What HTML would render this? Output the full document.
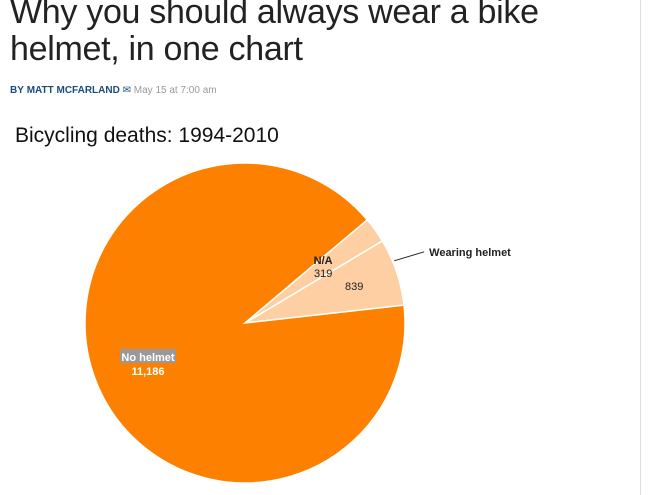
<!DOCTYPE html>
<html><head><meta charset="utf-8"><style>
body{margin:0;width:653px;height:495px;background:#fff;overflow:hidden;font-family:"Liberation Sans",sans-serif;position:relative}
h1{position:absolute;left:10px;top:-6px;margin:0;font-weight:normal;font-size:34px;line-height:37px;color:#222;letter-spacing:-0.3px}
.by{position:absolute;left:10px;top:85px;font-size:10px;color:#999}
.by b{color:#1a4d7c}
.ct{position:absolute;left:15px;top:124px;font-size:21px;color:#111}
.rule{position:absolute;left:640px;top:0;width:1px;height:495px;background:#ddd}
svg{position:absolute;left:0;top:0}
</style></head><body>
<h1>Why you should always wear a bike<br>helmet, in one chart</h1>
<div class="by"><b>BY</b> <b style="color:#1a4d7c">MATT MCFARLAND</b> <span style="color:#1a4d7c">✉</span> May 15 at 7:00 am</div>
<div class="ct">Bicycling deaths: 1994-2010</div>
<div class="rule"></div>
<svg id="pie" width="653" height="495"></svg>
<script>
const categories=["Wearing helmet","N/A","No helmet"];
const values=[839,319,11186];
const labels=["839","319","11,186"];
const colors=["#fdcfa3","#fdcfa3","#fd8000"];
const cx=245,cy=323,r=160,startDeg=6.4;
const svg=document.getElementById('pie');
const NS='http://www.w3.org/2000/svg';
const total=values.reduce((a,b)=>a+b,0);
function pt(deg,rad){const a=deg*Math.PI/180;return [cx+rad*Math.cos(a),cy-rad*Math.sin(a)];}
let a0=startDeg;
const mids=[];
values.forEach((v,i)=>{
  const span=v/total*360,a1=a0+span;
  const p0=pt(a0,r),p1=pt(a1,r);
  const path=document.createElementNS(NS,'path');
  path.setAttribute('d',`M${cx},${cy}L${p0[0]},${p0[1]}A${r},${r} 0 ${span>180?1:0} 0 ${p1[0]},${p1[1]}Z`);
  path.setAttribute('fill',colors[i]);path.setAttribute('stroke','#fff');path.setAttribute('stroke-width','1.5');
  
  
  svg.appendChild(path);
  mids.push((a0+a1)/2);a0=a1;
});
function txt(x,y,s,opt){const t=document.createElementNS(NS,'text');t.setAttribute('x',x);t.setAttribute('y',y);t.setAttribute('font-size','11');t.setAttribute('text-anchor',opt.anchor||'middle');t.setAttribute('fill',opt.fill||'#222');if(opt.bold)t.setAttribute('font-weight','bold');t.textContent=s;svg.appendChild(t);return t;}
// wearing helmet
let p=pt(mids[0],r*0.72);
let t=txt(p[0],p[1]+4,labels[0],{});

let e1=pt(mids[0]+4,r*1.01),e2=[e1[0]+30,e1[1]-9];
const ln=document.createElementNS(NS,'line');
ln.setAttribute('x1',e1[0]);ln.setAttribute('y1',e1[1]);ln.setAttribute('x2',e2[0]);ln.setAttribute('y2',e2[1]);ln.setAttribute('stroke','#222');
svg.appendChild(ln);
t=txt(e2[0]+5,e2[1]+4,categories[0],{anchor:'start',bold:true});

// N/A
p=pt(mids[1],r*0.6);
t=txt(p[0],p[1]-3,categories[1],{bold:true});

t=txt(p[0],p[1]+10,labels[1],{});

// No helmet
p=[cx-97,cy+38];
const bg=document.createElementNS(NS,'rect');
bg.setAttribute('x',p[0]-28);bg.setAttribute('y',p[1]-12);bg.setAttribute('width',56);bg.setAttribute('height',14);bg.setAttribute('fill','#999');
svg.appendChild(bg);
t=txt(p[0],p[1],categories[2],{bold:true,fill:'#fff'});

t=txt(p[0],p[1]+14,labels[2],{bold:true,fill:'#fff'});

</script>
</body></html>
